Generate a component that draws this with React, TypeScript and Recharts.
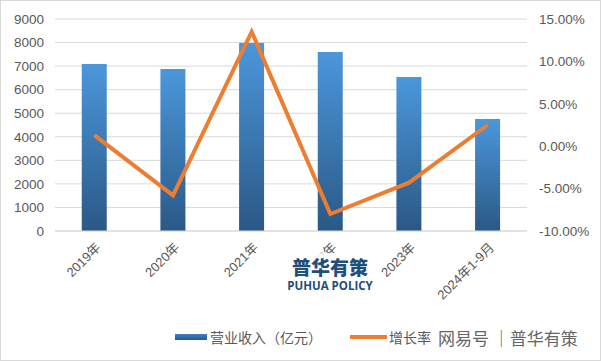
import { ComposedChart, Bar, Line, XAxis, YAxis, CartesianGrid } from 'recharts';

const years = ['2019年', '2020年', '2021年', '2022年', '2023年', '2024年1-9月'];
const revenue = [7090, 6880, 7980, 7600, 6540, 4750];
const growth = [1.3, -5.8, 13.5, -8.0, -4.3, 2.5];
const leftTicks = [0, 1000, 2000, 3000, 4000, 5000, 6000, 7000, 8000, 9000];
const rightTicks = [-10, -5, 0, 5, 10, 15];

const data = years.map((name, i) => ({ name, revenue: revenue[i], growth: growth[i] }));

const FONT = '"Liberation Sans", "Noto Sans CJK SC", sans-serif';
const GREY = '#595959';

const XTick = ({ x, y, payload }: any) => (
  <g transform={`translate(${x + 4},${y + 6})`}>
    <text
      textAnchor="end"
      transform="rotate(-45)"
      dy="0.35em"
      fill={GREY}
      fontSize={13}
      fontFamily={FONT}
    >
      {payload.value}
    </text>
  </g>
);

export default function App() {
  return (
    <div
      style={{
        position: 'fixed',
        left: 0,
        top: 0,
        width: 601,
        height: 361,
        background: '#fff',
        boxSizing: 'border-box',
        border: '1px solid #d9d9d9',
        fontFamily: FONT,
      }}
    >
      <div style={{ position: 'absolute', left: -1, top: -1 }}>
        <ComposedChart
          width={601}
          height={361}
          data={data}
          margin={{ top: 19, right: 0, left: 0, bottom: 0 }}
          barCategoryGap="34%"
        >
          <defs>
            <linearGradient id="barFill" x1="0" y1="0" x2="0" y2="1">
              <stop offset="0%" stopColor="#4b97db" />
              <stop offset="100%" stopColor="#2b5886" />
            </linearGradient>
          </defs>
          <CartesianGrid yAxisId="left" vertical={false} stroke="#d9d9d9" />
          <XAxis
            dataKey="name"
            height={130}
            interval={0}
            tickLine={false}
            axisLine={{ stroke: '#d9d9d9' }}
            tick={<XTick />}
          />
          <YAxis
            yAxisId="left"
            width={55}
            domain={[0, 9000]}
            ticks={leftTicks}
            axisLine={false}
            tickLine={false}
            tickMargin={5}
            tick={{ fill: GREY, fontSize: 13.5, fontFamily: FONT }}
          />
          <YAxis
            yAxisId="right"
            orientation="right"
            width={74}
            domain={[-10, 15]}
            ticks={rightTicks}
            axisLine={false}
            tickLine={false}
            tickMargin={6}
            tickFormatter={(v: number) => `${v.toFixed(2)}%`}
            tick={{ fill: GREY, fontSize: 13.5, fontFamily: FONT, textAnchor: 'start' }}
          />
          <Bar yAxisId="left" dataKey="revenue" fill="url(#barFill)" isAnimationActive={false} />
          <Line
            yAxisId="right"
            dataKey="growth"
            type="linear"
            stroke="#ed7d31"
            strokeWidth={4}
            dot={false}
            isAnimationActive={false}
          />
        </ComposedChart>
      </div>

      {/* watermark logo */}
      <div
        style={{
          position: 'absolute',
          left: 286,
          top: 252,
          width: 86,
          height: 42,
          background: 'rgba(255,255,255,0.88)',
          textAlign: 'center',
          color: '#1f4e79',
          lineHeight: 1,
        }}
      >
        <div style={{ fontSize: 19, fontWeight: 900, fontFamily: '"Noto Sans CJK SC", sans-serif', marginTop: 4 }}>
          普华有策
        </div>
        <div style={{ fontSize: 11.5, fontWeight: 700, marginTop: 4, fontFamily: '"Open Sans", sans-serif' }}>
          PUHUA POLICY
        </div>
      </div>

      {/* legend */}
      <div style={{ position: 'absolute', left: 174, top: 323, display: 'flex', alignItems: 'center', height: 26, fontSize: 14, color: GREY }}>
        <span style={{ display: 'inline-block', width: 32, height: 6, background: 'linear-gradient(#3f80c2, #2b5886)', marginRight: 3 }} />
        <span style={{ fontFamily: '"Noto Sans CJK SC", sans-serif' }}>营业收入（亿元）</span>
        <span style={{ display: 'inline-block', width: 37, height: 4, background: '#ed7d31', marginLeft: 28, marginRight: 2 }} />
        <span style={{ fontFamily: '"Noto Sans CJK SC", sans-serif' }}>增长率</span>
      </div>
      <div
        style={{
          position: 'absolute',
          left: 437,
          top: 325,
          fontSize: 17,
          color: '#666',
          fontFamily: '"Noto Sans CJK SC", sans-serif',
          whiteSpace: 'nowrap',
          lineHeight: '24px',
        }}
      >
        网易号 ｜普华有策
      </div>
    </div>
  );
}
